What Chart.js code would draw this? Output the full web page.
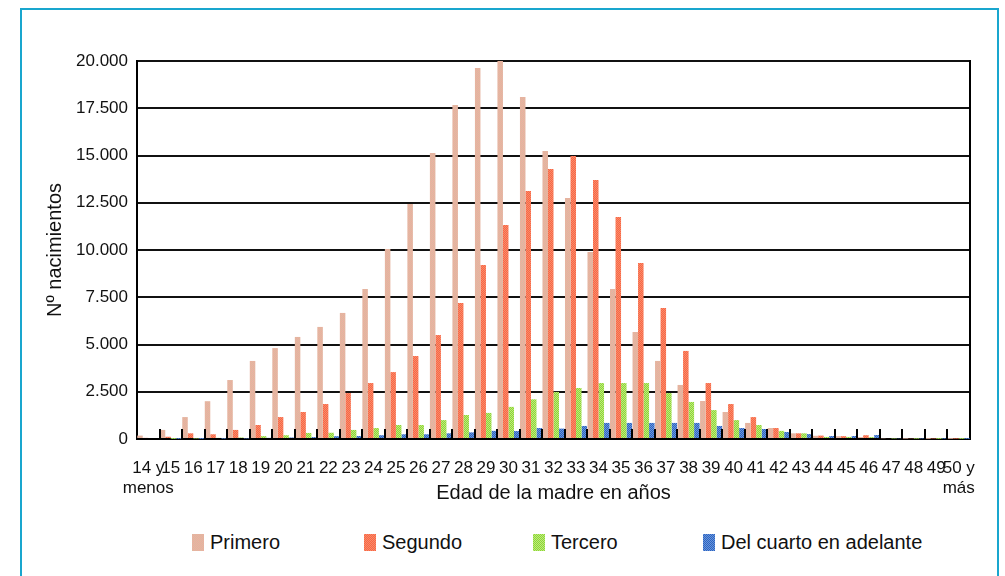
<!DOCTYPE html>
<html lang="es">
<head>
<meta charset="UTF-8">
<title>Nacimientos por edad de la madre</title>
<style>
  body { margin: 0; background: #fff; font-family: 'Liberation Sans', Arial, sans-serif; }
  #frame {
    position: absolute; left: 20px; top: 8px;
    width: 975px; height: 620px;
    border: 2px solid #19a6ce;
  }
  #wrap { position: absolute; left: 0; top: 0; width: 1005px; height: 510px; }
  #legend { position: absolute; left: 0; top: 531px; width: 1005px; font-size: 20px; color: #111; }
  #legend .item { position: absolute; display: flex; align-items: center; white-space: nowrap; }
  #legend .sw { width: 12px; height: 17px; margin-right: 6px; }
</style>
</head>
<body>
<div id="frame"></div>
<div id="wrap"><canvas id="c"></canvas></div>
<div id="legend"></div>

<script src="https://cdn.jsdelivr.net/npm/chart.js@4.4.0/dist/chart.umd.min.js"></script>
<script>
  // edades de la madre
  const ages = [['14 y', 'menos'], '15', '16', '17', '18', '19', '20', '21', '22', '23', '24', '25', '26', '27', '28', '29',
    '30', '31', '32', '33', '34', '35', '36', '37', '38', '39', '40', '41', '42', '43', '44', '45', '46', '47', '48', '49', ['50 y', 'más']];

  const primero = [180, 480, 1160, 2000, 3120, 4130, 4810, 5400, 5930, 6670, 7940, 10050, 12430, 15130, 17670, 19630,
    20000, 18100, 15240, 12750, 9900, 7940, 5660, 4130, 2860, 2010, 1430, 850, 580, 300, 170, 150, 100, 40, 20, 10, 10];
  const segundo = [60, 120, 300, 250, 480, 740, 1160, 1430, 1850, 2430, 2960, 3540, 4390, 5500, 7200, 9200,
    11320, 13120, 14290, 14970, 13700, 11750, 9310, 6930, 4660, 2960, 1850, 1160, 580, 300, 180, 150, 200, 50, 40, 30, 20];
  const tercero = [0, 10, 30, 60, 80, 150, 200, 320, 330, 480, 580, 740, 740, 1000, 1270, 1380,
    1700, 2100, 2490, 2700, 2960, 2960, 2960, 2430, 1960, 1530, 1000, 740, 430, 300, 110, 110, 100, 30, 20, 10, 10];
  const cuarto = [0, 10, 10, 20, 30, 60, 80, 100, 150, 160, 200, 250, 250, 300, 350, 430,
    420, 580, 550, 690, 850, 850, 850, 850, 850, 690, 580, 530, 370, 260, 160, 160, 210, 40, 30, 20, 10];

  const seriesNames = ['Primero', 'Segundo', 'Tercero', 'Del cuarto en adelante'];
  const yTicks = [0, 2500, 5000, 7500, 10000, 12500, 15000, 17500, 20000];

  // small dotted tiles, like the print pattern
  function tile(a, b) {
    const t = document.createElement('canvas');
    t.width = 2; t.height = 2;
    const g = t.getContext('2d');
    g.fillStyle = a; g.fillRect(0, 0, 2, 2);
    g.fillStyle = b; g.fillRect(0, 0, 1, 1); g.fillRect(1, 1, 1, 1);
    return t;
  }
  const tiles = [
    tile('#f4a8a0', '#d6c0a0'),
    tile('#ff6242', '#f2906e'),
    tile('#8cd638', '#bfea7c'),
    tile('#2c64c2', '#6c96da')
  ];
  const ctx = document.getElementById('c').getContext('2d');
  const fills = tiles.map(t => ctx.createPattern(t, 'repeat'));

  const fmt = v => v >= 1000 ? Math.floor(v / 1000) + '.' + String(v % 1000).padStart(3, '0') : String(v);

  // short marks between the age groups
  const catTicks = {
    id: 'catTicks',
    afterDatasetsDraw(chart) {
      const x = chart.scales.x, bottom = chart.chartArea.bottom, c = chart.ctx;
      c.save();
      c.strokeStyle = '#000';
      c.lineWidth = 2;
      for (let i = 1; i < ages.length; i++) {
        const px = Math.round((x.getPixelForValue(i - 1) + x.getPixelForValue(i)) / 2);
        c.beginPath();
        c.moveTo(px, bottom);
        c.lineTo(px, bottom - 10);
        c.stroke();
      }
      c.restore();
    }
  };

  const values = [primero, segundo, tercero, cuarto];

  new Chart(ctx, {
    type: 'bar',
    data: {
      labels: ages,
      datasets: values.map((d, i) => ({
        label: seriesNames[i],
        data: d,
        backgroundColor: fills[i],
        borderWidth: 0,
        categoryPercentage: 0.98,
        barPercentage: 1.0
      }))
    },
    options: {
      responsive: true,
      maintainAspectRatio: false,
      animation: false,
      layout: { padding: { left: 36, right: 35, top: 61, bottom: 4 } },
      plugins: {
        legend: { display: false },
        tooltip: { enabled: false }
      },
      scales: {
        x: {
          grid: { display: false },
          border: { display: true, color: '#000', width: 2 },
          ticks: {
            autoSkip: false, maxRotation: 0, minRotation: 0,
            padding: 11,
            color: '#111',
            font: { family: 'Liberation Sans', size: 17 }
          },
          title: {
            display: true, text: 'Edad de la madre en años',
            color: '#111',
            font: { family: 'Liberation Sans', size: 20 },
            padding: { top: 0, bottom: 1 }
          },
          afterFit(s) { s.height = 67; }
        },
        y: {
          min: 0, max: 20000,
          afterBuildTicks(s) { s.ticks = yTicks.map(v => ({ value: v })); },
          grid: { color: '#111', lineWidth: 2, drawTicks: false },
          border: { display: true, color: '#000', width: 2 },
          ticks: {
            padding: 9,
            color: '#111',
            font: { family: 'Liberation Sans', size: 17 },
            callback: v => fmt(v)
          },
          title: {
            display: true, text: 'Nº nacimientos',
            color: '#111',
            font: { family: 'Liberation Sans', size: 20 },
            padding: { top: 7, bottom: 0 }
          },
          afterFit(s) { s.width = 101; }
        },
        y2: {
          position: 'right',
          min: 0, max: 20000,
          grid: { drawOnChartArea: false, drawTicks: false },
          border: { display: true, color: '#000', width: 2 },
          ticks: { display: false },
          afterFit(s) { s.width = 0; }
        }
      }
    },
    plugins: [catTicks]
  });

  // legend below the chart
  const legendLeft = [192, 364, 533, 703];
  const legend = document.getElementById('legend');
  seriesNames.forEach((name, i) => {
    const item = document.createElement('div');
    item.className = 'item';
    item.style.left = legendLeft[i] + 'px';
    const sw = document.createElement('span');
    sw.className = 'sw';
    sw.style.backgroundImage = 'url(' + tiles[i].toDataURL() + ')';
    const label = document.createElement('span');
    label.textContent = name;
    item.appendChild(sw);
    item.appendChild(label);
    legend.appendChild(item);
  });
</script>
</body>
</html>
